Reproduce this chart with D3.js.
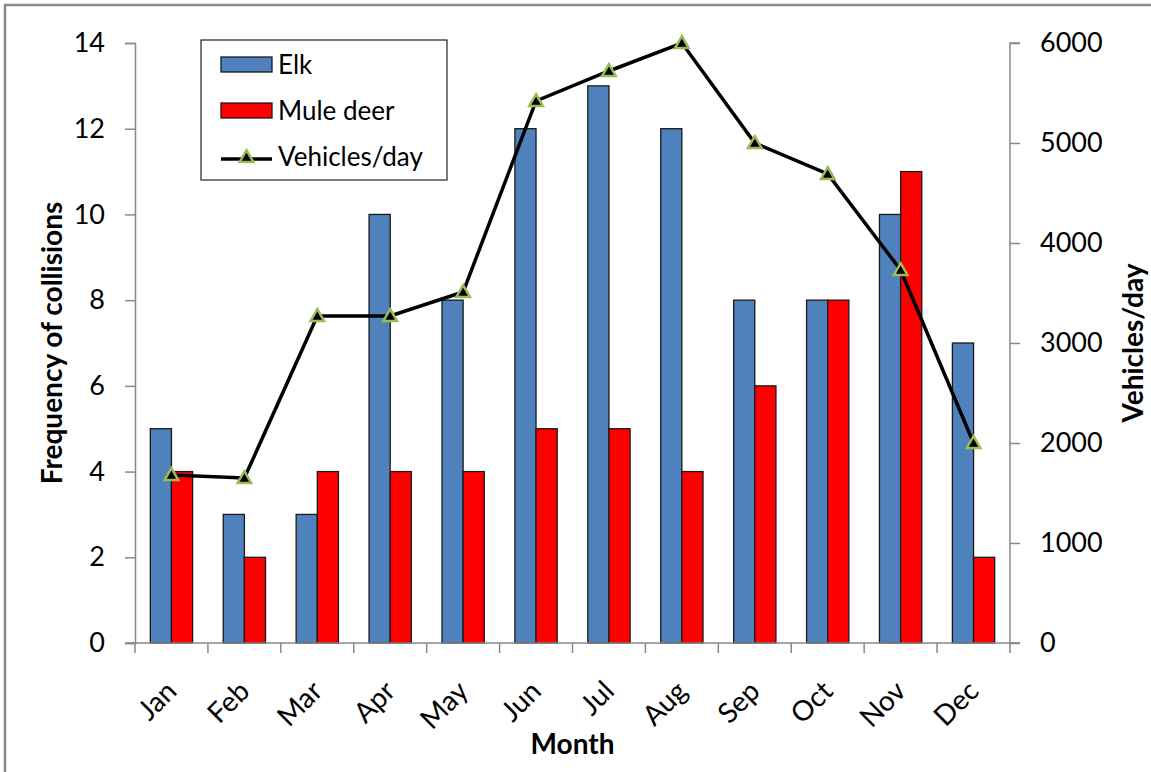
<!DOCTYPE html>
<html>
<head>
<meta charset="utf-8">
<script src="https://cdn.jsdelivr.net/npm/d3@7"></script>
<style>
  body { margin: 0; background: #fff; }
  svg { display: block; font-family: Lato, "Open Sans", sans-serif; }
</style>
</head>
<body>
<svg id="chart" width="1151" height="772"></svg>
<script>
var months = ['Jan', 'Feb', 'Mar', 'Apr', 'May', 'Jun', 'Jul', 'Aug', 'Sep', 'Oct', 'Nov', 'Dec'];
var elk = [5, 3, 3, 10, 8, 12, 13, 12, 8, 8, 10, 7];
var muleDeer = [4, 2, 4, 4, 4, 5, 5, 4, 6, 8, 11, 2];
var vehicles = [1680, 1650, 3270, 3270, 3510, 5420, 5720, 6000, 5000, 4690, 3730, 2000];
var leftTicks = [0, 2, 4, 6, 8, 10, 12, 14];
var rightTicks = [0, 1000, 2000, 3000, 4000, 5000, 6000];

var svg = d3.select('#chart');
var m = { left: 135, right: 1010, top: 43, bottom: 643 };
var font = 'Lato, "Open Sans", sans-serif';

// outer frame (only left/top edges visible)
svg.append('rect')
    .attr('x', 5).attr('y', 5).attr('width', 1170).attr('height', 800)
    .attr('fill', 'none').attr('stroke', '#898989').attr('stroke-width', 2.5);

var x = d3.scaleBand().domain(months).range([m.left, m.right]);
var y = d3.scaleLinear().domain([0, 14]).range([m.bottom, m.top]);
var y2 = d3.scaleLinear().domain([0, 6000]).range([m.bottom, m.top]);

var barW = x.bandwidth() * 0.29;

// left axis
var gl = svg.append('g').attr('transform', 'translate(' + m.left + ',0)')
    .call(d3.axisLeft(y).tickValues(leftTicks).tickSize(10).tickPadding(20));
// right axis
var gr = svg.append('g').attr('transform', 'translate(' + m.right + ',0)')
    .call(d3.axisRight(y2).tickValues(rightTicks).tickFormat(d3.format('d')).tickSize(10).tickPadding(20));
[gl, gr].forEach(function (g) {
    g.select('.domain').attr('stroke', '#898989').attr('stroke-width', 1.5);
    g.selectAll('.tick line').attr('stroke', '#898989').attr('stroke-width', 1.5);
    g.selectAll('.tick text').attr('font-size', 27).attr('fill', '#000')
        .style('font-family', font);
});
gr.select('.domain').attr('d', 'M10,' + m.top + 'H0V' + m.bottom + 'H10');

// bars
var bars = svg.append('g');
bars.selectAll('rect.elk').data(elk).join('rect')
    .attr('class', 'elk')
    .attr('x', function (d, i) { return x(months[i]) + x.bandwidth() / 2 - barW; })
    .attr('y', function (d) { return y(d); })
    .attr('width', barW)
    .attr('height', function (d) { return y(0) - y(d); })
    .attr('fill', '#4f81bd').attr('stroke', '#1a1a1a').attr('stroke-width', 1.3);
bars.selectAll('rect.mule').data(muleDeer).join('rect')
    .attr('class', 'mule')
    .attr('x', function (d, i) { return x(months[i]) + x.bandwidth() / 2; })
    .attr('y', function (d) { return y(d); })
    .attr('width', barW)
    .attr('height', function (d) { return y(0) - y(d); })
    .attr('fill', '#ff0000').attr('stroke', '#1a1a1a').attr('stroke-width', 1.3);

// x axis
var gx = svg.append('g').attr('transform', 'translate(0,' + m.bottom + ')')
    .call(d3.axisBottom(x).tickSize(0).tickPadding(0));
gx.select('.domain').attr('stroke', '#898989').attr('stroke-width', 1.5)
    .attr('d', 'M' + (m.left - 10) + ',0H' + (m.right + 10));
gx.selectAll('.tick text').remove();
var bounds = months.map(function (d) { return x(d); }).concat([m.right]);
gx.selectAll('line.sep').data(bounds).join('line')
    .attr('class', 'sep')
    .attr('x1', function (d) { return d; }).attr('x2', function (d) { return d; })
    .attr('y1', 0).attr('y2', 10)
    .attr('stroke', '#898989').attr('stroke-width', 1.5);
gx.selectAll('text.month').data(months).join('text')
    .attr('class', 'month')
    .attr('transform', function (d) {
        return 'translate(' + (x(d) + x.bandwidth() / 2 - 7) + ',36) rotate(-45)';
    })
    .attr('text-anchor', 'end')
    .attr('dy', '0.7em')
    .attr('font-size', 28)
    .attr('fill', '#000')
    .style('font-family', font)
    .text(function (d) { return d; });

// vehicles line
var line = d3.line()
    .x(function (d, i) { return x(months[i]) + x.bandwidth() / 2; })
    .y(function (d) { return y2(d); });
svg.append('path').datum(vehicles)
    .attr('d', line).attr('fill', 'none').attr('stroke', '#000').attr('stroke-width', 3.5);
var tri = d3.symbol().type(d3.symbolTriangle).size(80);
svg.append('g').selectAll('path').data(vehicles).join('path')
    .attr('transform', function (d, i) {
        return 'translate(' + (x(months[i]) + x.bandwidth() / 2) + ',' + (y2(d) + 1) + ')';
    })
    .attr('d', tri)
    .attr('fill', '#000').attr('stroke', '#9bbb59').attr('stroke-width', 2.5);

// axis titles
svg.append('text')
    .attr('transform', 'translate(62,' + ((m.top + m.bottom) / 2) + ') rotate(-90)')
    .attr('text-anchor', 'middle').attr('font-size', 28).attr('font-weight', 'bold')
    .text('Frequency of collisions');
svg.append('text')
    .attr('transform', 'translate(1143,' + ((m.top + m.bottom) / 2) + ') rotate(-90)')
    .attr('text-anchor', 'middle').attr('font-size', 28).attr('font-weight', 'bold')
    .text('Vehicles/day');
svg.append('text')
    .attr('x', (m.left + m.right) / 2).attr('y', 754)
    .attr('text-anchor', 'middle').attr('font-size', 28).attr('font-weight', 'bold')
    .text('Month');

// legend
var lg = svg.append('g').attr('transform', 'translate(201,40)');
lg.append('rect').attr('width', 246).attr('height', 140)
    .attr('fill', '#fff').attr('stroke', '#333').attr('stroke-width', 1.3);
var legendItems = [
    { name: 'Elk', color: '#4f81bd', type: 'bar' },
    { name: 'Mule deer', color: '#ff0000', type: 'bar' },
    { name: 'Vehicles/day', type: 'line' }
];
legendItems.forEach(function (it, i) {
    var cy = 25 + i * 46;
    if (it.type === 'bar') {
        lg.append('rect').attr('x', 20).attr('y', cy - 8).attr('width', 51).attr('height', 15)
            .attr('fill', it.color).attr('stroke', '#1a1a1a').attr('stroke-width', 1.3);
    } else {
        lg.append('line').attr('x1', 20).attr('x2', 71).attr('y1', cy + 2).attr('y2', cy + 2)
            .attr('stroke', '#000').attr('stroke-width', 3.5);
        lg.append('path').attr('transform', 'translate(45.5,' + (cy + 1) + ')')
            .attr('d', tri).attr('fill', '#000').attr('stroke', '#9bbb59').attr('stroke-width', 2.5);
    }
    lg.append('text').attr('x', 77).attr('y', cy).attr('dy', '0.35em')
        .attr('font-size', 26).text(it.name);
});
</script>
</body>
</html>
